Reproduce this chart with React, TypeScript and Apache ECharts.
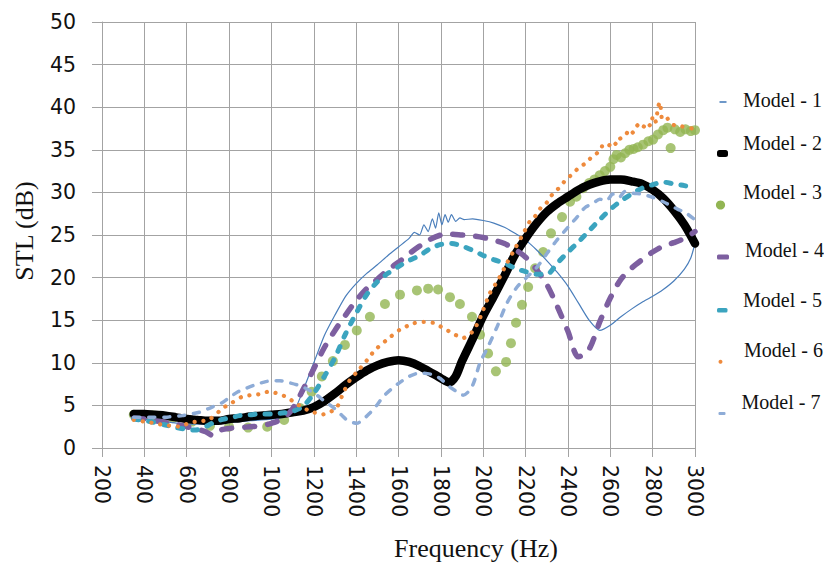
import React, { useEffect, useRef } from "react";
import * as echarts from "echarts";

// Frequency (Hz) / STL (dB) pairs
const model1: [number, number][] = [
  [350, 3.5], [400, 3.4], [500, 3.1], [600, 2.8], [700, 2.8], [800, 3.0], [900, 3.2], [1000, 3.4],
  [1050, 3.6], [1100, 4.0], [1150, 6.8], [1200, 10.0], [1250, 13.2], [1300, 15.6], [1350, 17.8],
  [1400, 19.3], [1450, 20.5], [1500, 21.5], [1550, 22.6], [1600, 23.6], [1650, 24.6], [1675, 25.3],
  [1700, 25.0], [1720, 26.2], [1740, 25.4], [1760, 26.9], [1775, 25.8], [1790, 27.6], [1805, 26.2],
  [1820, 27.4], [1835, 26.5], [1850, 27.4], [1870, 26.6], [1890, 27.0], [1910, 26.8], [1950, 26.9],
  [2000, 26.7], [2050, 26.4], [2100, 25.9], [2150, 25.2], [2200, 24.4], [2250, 23.3], [2300, 22.0],
  [2350, 20.6], [2400, 19.0], [2450, 17.0], [2500, 15.0], [2550, 13.8], [2600, 14.4], [2650, 15.4],
  [2700, 16.3], [2750, 17.1], [2800, 17.8], [2850, 18.6], [2900, 19.6], [2950, 21.0], [2980, 22.3],
  [3000, 24.0],
];

const model2: [number, number][] = [
  [350, 4.0], [400, 4.0], [450, 3.9], [500, 3.8], [550, 3.6], [600, 3.4], [650, 3.3], [700, 3.2],
  [750, 3.2], [800, 3.4], [850, 3.5], [900, 3.7], [950, 3.8], [1000, 3.9], [1050, 4.0], [1100, 4.2],
  [1150, 4.4], [1200, 4.8], [1250, 5.5], [1300, 6.4], [1350, 7.4], [1400, 8.3], [1450, 9.1],
  [1500, 9.7], [1550, 10.1], [1600, 10.3], [1650, 10.1], [1700, 9.6], [1750, 8.9], [1800, 8.2],
  [1840, 7.7], [1870, 8.4], [1900, 10.2], [1950, 12.8], [2000, 15.5], [2050, 17.8], [2100, 20.2],
  [2150, 22.7], [2200, 24.6], [2250, 26.3], [2300, 27.7], [2350, 28.7], [2400, 29.5], [2450, 30.3],
  [2500, 30.9], [2550, 31.3], [2600, 31.5], [2650, 31.5], [2700, 31.3], [2750, 31.0], [2800, 30.3],
  [2850, 29.3], [2900, 27.9], [2950, 26.2], [3000, 24.0],
];

const model3: [number, number][] = [
  [350, 3.9], [443, 3.8], [533, 3.5], [626, 3.1], [710, 2.6], [800, 2.5], [890, 2.4], [980, 2.5],
  [1060, 3.3], [1135, 4.7], [1190, 6.6], [1238, 8.4], [1290, 10.2], [1347, 12.1], [1403, 13.8],
  [1465, 15.4], [1536, 16.9], [1607, 18.0], [1687, 18.5], [1740, 18.7], [1787, 18.6], [1843, 17.7],
  [1890, 16.9], [1947, 15.4], [1985, 13.3], [2023, 11.1], [2060, 9.0], [2108, 10.1], [2131, 12.3],
  [2155, 14.7], [2183, 16.8], [2212, 18.9], [2245, 21.1], [2283, 23.0], [2320, 25.2], [2372, 27.1],
  [2410, 28.9], [2440, 29.5], [2471, 30.5], [2500, 31.1], [2525, 31.5], [2550, 32.0], [2575, 32.5],
  [2600, 33.0], [2615, 33.9], [2630, 34.4], [2650, 34.1], [2670, 34.6], [2690, 35.0], [2710, 35.1],
  [2730, 35.3], [2755, 35.6], [2780, 36.0], [2802, 36.2], [2825, 36.8], [2850, 37.3], [2870, 37.6],
  [2885, 35.2], [2905, 37.4], [2930, 37.1], [2955, 37.4], [2980, 37.2], [3000, 37.3],
];

const model4: [number, number][] = [
  [350, 3.5], [400, 3.4], [450, 3.2], [500, 3.0], [550, 2.8], [600, 2.5], [650, 2.2], [690, 1.9],
  [720, 1.5], [760, 2.1], [800, 2.3], [850, 2.4], [900, 2.5], [950, 2.6], [1000, 2.9], [1050, 3.4],
  [1100, 4.6], [1150, 6.9], [1200, 9.3], [1250, 11.8], [1300, 13.8], [1350, 15.6], [1400, 17.3],
  [1450, 18.7], [1500, 19.8], [1550, 20.9], [1600, 21.8], [1650, 22.8], [1700, 23.7], [1750, 24.5],
  [1800, 25.0], [1850, 25.1], [1900, 25.0], [1950, 24.9], [2000, 24.7], [2050, 24.4], [2100, 24.0],
  [2150, 23.3], [2200, 22.4], [2250, 21.0], [2300, 19.2], [2350, 16.6], [2400, 13.7], [2450, 10.7],
  [2500, 11.6], [2550, 14.8], [2600, 17.6], [2650, 19.8], [2700, 21.1], [2750, 22.1], [2800, 23.0],
  [2850, 23.7], [2900, 24.1], [2950, 24.6], [3000, 25.4],
];

const model5: [number, number][] = [
  [350, 3.4], [400, 3.2], [450, 3.0], [500, 2.7], [550, 2.4], [600, 2.2], [640, 2.1], [680, 2.4],
  [720, 2.9], [760, 3.3], [800, 3.5], [850, 3.8], [900, 3.9], [950, 4.0], [1000, 4.0], [1050, 4.1],
  [1100, 4.3], [1150, 4.9], [1200, 6.4], [1250, 8.4], [1300, 10.6], [1350, 13.4], [1400, 15.8],
  [1450, 18.0], [1500, 19.5], [1550, 20.5], [1600, 21.3], [1650, 22.0], [1700, 22.6], [1750, 23.4],
  [1800, 23.9], [1850, 24.0], [1900, 23.7], [1950, 23.2], [2000, 22.6], [2050, 22.1], [2100, 21.7],
  [2150, 21.1], [2200, 20.7], [2250, 20.4], [2300, 20.4], [2350, 21.7], [2400, 23.0], [2450, 24.2],
  [2500, 25.5], [2550, 26.8], [2600, 28.0], [2650, 29.0], [2700, 29.8], [2750, 30.5], [2800, 30.9],
  [2850, 31.2], [2900, 31.0], [2950, 30.8], [3000, 30.5],
];

const model6: [number, number][] = [
  [350, 3.3], [400, 3.1], [450, 2.9], [490, 2.7], [530, 2.6], [570, 2.5], [615, 3.0], [660, 3.1],
  [710, 3.4], [772, 4.7], [813, 5.3], [860, 6.0], [900, 6.2], [940, 6.3], [985, 6.6], [1030, 6.4],
  [1078, 5.9], [1111, 5.3], [1158, 4.6], [1200, 4.2], [1230, 3.9], [1268, 4.1], [1310, 4.8],
  [1338, 6.4], [1371, 8.0], [1403, 8.9], [1451, 10.3], [1489, 11.5], [1545, 12.7], [1607, 13.9],
  [1668, 14.6], [1701, 14.8], [1763, 14.7], [1810, 14.1], [1867, 13.3], [1905, 12.9], [1947, 13.6],
  [1975, 14.7], [2000, 16.2], [2032, 18.2], [2070, 19.7], [2110, 21.6], [2150, 23.4], [2190, 25.2],
  [2220, 26.6], [2245, 27.2], [2275, 28.3], [2300, 28.8], [2330, 29.9], [2362, 30.6], [2390, 31.5],
  [2424, 32.2], [2455, 33.0], [2490, 33.5], [2515, 34.3], [2537, 34.6], [2560, 35.4], [2584, 35.2],
  [2610, 36.0], [2630, 35.6], [2646, 36.3], [2670, 36.6], [2690, 37.4], [2708, 37.0], [2730, 37.9],
  [2750, 37.5], [2773, 38.2], [2790, 37.8], [2802, 39.0], [2815, 38.3], [2825, 40.0], [2835, 40.6],
  [2845, 38.6], [2865, 38.8], [2882, 38.2], [2900, 37.9], [2930, 37.8], [2960, 37.6], [2990, 37.5],
  [3000, 37.6],
];

const model7: [number, number][] = [
  [350, 3.6], [400, 3.6], [450, 3.6], [500, 3.6], [530, 3.7], [580, 3.8], [620, 4.0], [660, 4.2],
  [700, 4.6], [766, 5.3], [800, 5.9], [842, 6.6], [880, 7.0], [922, 7.4], [960, 7.7], [1003, 7.9],
  [1040, 7.9], [1078, 7.7], [1135, 7.3], [1170, 6.9], [1215, 6.2], [1250, 5.5], [1290, 4.8],
  [1330, 3.9], [1357, 3.3], [1403, 2.9], [1430, 3.3], [1465, 4.1], [1500, 5.1], [1527, 6.0],
  [1570, 7.0], [1607, 7.7], [1650, 8.4], [1701, 8.8], [1763, 8.6], [1800, 8.1], [1830, 7.4],
  [1870, 6.7], [1905, 6.2], [1947, 7.2], [1985, 10.0], [2023, 11.9], [2065, 14.2], [2112, 17.0],
  [2160, 18.9], [2200, 19.9], [2253, 21.2], [2300, 22.8], [2348, 24.4], [2400, 25.9], [2443, 27.1],
  [2480, 28.2], [2518, 28.7], [2550, 29.2], [2580, 29.0], [2613, 29.8], [2640, 29.4], [2670, 30.1],
  [2708, 29.9], [2750, 29.8], [2802, 29.4], [2850, 28.9], [2896, 28.3], [2930, 27.9], [2962, 27.5],
  [3000, 26.8],
];

const seriesNames = ["Model - 1", "Model - 2", "Model - 3", "Model - 4", "Model - 5", "Model - 6", "Model - 7"];
const colors = ["#4a7ebb", "#000000", "#92b553", "#7d5fa0", "#3ba4bf", "#ee8a3c", "#8eacd7"];

const xTitle = "Frequency (Hz)";
const yTitle = "STL (dB)";

const GRID = "#a3a3a3";
const SERIF = "'Liberation Serif', 'Times New Roman', serif";
const SANS = "'DejaVu Sans', sans-serif";

export default function App() {
  const ref = useRef<HTMLDivElement>(null);

  useEffect(() => {
    if (!ref.current) return;
    const chart = echarts.init(ref.current, undefined, { renderer: "svg" });

    const lineSeries = (idx: number, data: [number, number][], lineStyle: any, smooth: number | boolean = 0.3) => ({
      type: "line",
      name: seriesNames[idx],
      data,
      showSymbol: false,
      symbol: "none",
      smooth,
      lineStyle: { color: colors[idx], ...lineStyle },
      itemStyle: { color: colors[idx] },
    });

    const legendY = [100, 143, 192, 250, 300, 350, 402];
    const legendX = [743, 743, 743, 745, 743, 744, 741.5];
    const legendIcons: any[] = [
      { type: "rect", shape: { x: 719.5, y: 101.2, width: 7, height: 1.6 }, style: { fill: colors[0] } },
      { type: "rect", shape: { x: 717, y: 150, width: 11, height: 7, r: 2.5 }, style: { fill: colors[1] } },
      { type: "circle", shape: { cx: 720.5, cy: 205, r: 4.6 }, style: { fill: colors[2] } },
      { type: "rect", shape: { x: 717, y: 254.5, width: 12, height: 5, r: 1.5 }, style: { fill: colors[3] } },
      { type: "rect", shape: { x: 717, y: 308, width: 10.5, height: 4.5, r: 1.5 }, style: { fill: colors[4] } },
      { type: "circle", shape: { cx: 720.5, cy: 361.8, r: 2 }, style: { fill: colors[5] } },
      { type: "rect", shape: { x: 718.5, y: 412, width: 7, height: 3, r: 1 }, style: { fill: colors[6] } },
    ];
    const legendTexts = seriesNames.map((n, i) => ({
      type: "text",
      x: legendX[i],
      y: legendY[i],
      style: {
        text: n,
        font: `20px ${SERIF}`,
        fill: "#111",
        textAlign: "left",
        textVerticalAlign: "middle",
      },
    }));

    const option: any = {
      animation: false,
      backgroundColor: "#ffffff",
      grid: { left: 102, top: 22, right: 129, bottom: 115, containLabel: false },
      xAxis: {
        type: "value",
        min: 200,
        max: 3000,
        interval: 200,
        axisLine: { show: true, onZero: false, lineStyle: { color: GRID, width: 1 } },
        axisTick: { show: true, length: 9, lineStyle: { color: GRID } },
        splitLine: { show: true, lineStyle: { color: GRID, width: 1 } },
        axisLabel: {
          rotate: -90,
          margin: 17,
          fontFamily: SANS,
          fontSize: 20.5,
          color: "#111",
          showMinLabel: true,
          showMaxLabel: true,
          formatter: (v: number) => String(v),
        },
      },
      yAxis: {
        type: "value",
        min: 0,
        max: 50,
        interval: 5,
        axisLine: { show: true, lineStyle: { color: GRID, width: 1 } },
        axisTick: { show: true, length: 10, lineStyle: { color: GRID } },
        splitLine: { show: true, lineStyle: { color: GRID, width: 1 } },
        axisLabel: { margin: 26, fontFamily: SANS, fontSize: 20.5, color: "#111", formatter: (v: number) => String(v) },
      },
      series: [
        lineSeries(0, model1, { width: 1.2 }, 0.2),
        lineSeries(1, model2, { width: 8.5, cap: "round", join: "round" }),
        {
          type: "scatter",
          name: seriesNames[2],
          data: model3,
          symbolSize: 10,
          itemStyle: { color: colors[2] },
        },
        lineSeries(3, model4, { width: 5.5, type: [10, 13], cap: "round" }),
        lineSeries(4, model5, { width: 5, type: [5, 10], cap: "round" }),
        lineSeries(5, model6, { width: 4.2, type: [0.1, 8.8], cap: "round" }, 0.2),
        lineSeries(6, model7, { width: 3.5, type: [6, 9], cap: "round" }),
      ],
      graphic: [
        {
          type: "text",
          x: 476,
          y: 548,
          style: { text: xTitle, font: `26px ${SERIF}`, fill: "#111", textAlign: "center", textVerticalAlign: "middle" },
        },
        {
          type: "text",
          x: 24,
          y: 231,
          rotation: Math.PI / 2,
          style: { text: yTitle, font: `26px ${SERIF}`, fill: "#111", textAlign: "center", textVerticalAlign: "middle" },
        },
        ...legendIcons,
        ...legendTexts,
      ],
    };

    chart.setOption(option);
    return () => chart.dispose();
  }, []);

  return <div ref={ref} style={{ position: "absolute", left: 0, top: 0, width: 824, height: 563 }} />;
}
